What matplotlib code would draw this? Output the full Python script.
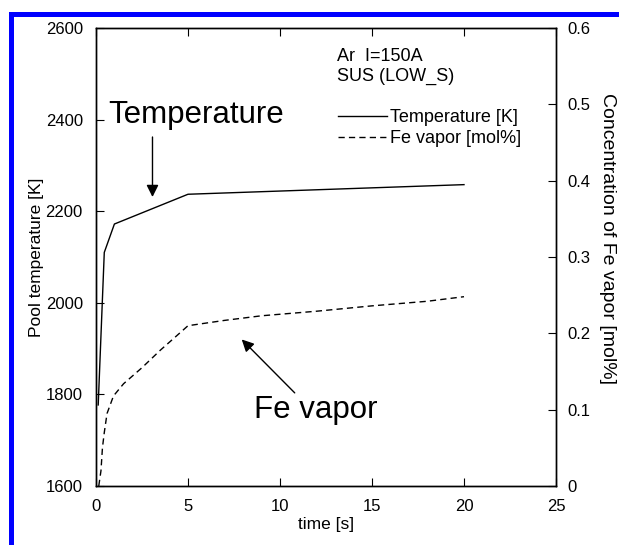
import numpy as np
import matplotlib.pyplot as plt
from matplotlib.lines import Line2D

plt.rcParams['font.family'] = ['Liberation Sans', 'DejaVu Sans']

# --- donnees ---
t_temp = [0.12, 0.45, 1.0, 5.0, 20.0]
temp_K = [1777, 2110, 2172, 2237, 2258]

t_fe = [0.15, 0.27, 0.35, 0.45, 0.6, 0.95, 1.5, 2.5, 3.5, 4.3, 5.0, 7.0, 9.0, 10.0, 12.0, 15.0, 18.0, 20.0]
fe_mol = [0.0, 0.02, 0.05, 0.07, 0.095, 0.118, 0.134, 0.155, 0.178, 0.195, 0.21,
          0.217, 0.223, 0.225, 0.229, 0.236, 0.242, 0.248]

xticks = [0, 5, 10, 15, 20, 25]
yticks_left = [1600, 1800, 2000, 2200, 2400, 2600]
yticks_right = [0, 0.1, 0.2, 0.3, 0.4, 0.5, 0.6]
yticklabels_right = ['0', '0.1', '0.2', '0.3', '0.4', '0.5', '0.6']

# --- figure ---
fig = plt.figure(figsize=(6.19, 5.45), dpi=100)
ax = fig.add_axes([96 / 619, 59 / 545, 460 / 619, 458 / 545])
ax2 = ax.twinx()

l1, = ax.plot(t_temp, temp_K, color='black', lw=1.0)
l2, = ax2.plot(t_fe, fe_mol, color='black', lw=1.0, dashes=(4.5, 3))

ax.set_xlim(0, 25)
ax.set_ylim(1600, 2600)
ax2.set_ylim(0, 0.6)
ax.set_xticks(xticks)
ax.set_yticks(yticks_left)
ax2.set_yticks(yticks_right)
ax2.set_yticklabels(yticklabels_right)

ax.tick_params(axis='x', direction='in', top=True, length=6, labelsize=12, pad=9.5)
ax.tick_params(axis='y', direction='in', length=6, labelsize=12, pad=9.5)
ax2.tick_params(axis='y', direction='in', length=6, labelsize=12, pad=8.5)
for a in (ax, ax2):
    for s in a.spines.values():
        s.set_linewidth(1.0)

ax.set_xlabel('time [s]', fontsize=12.5, labelpad=2)
ax.set_ylabel('Pool temperature [K]', fontsize=12.5, labelpad=1)
ax2.set_ylabel('Concentration of Fe vapor [mol%]', fontsize=14, rotation=270,
               va='bottom', labelpad=4)
ax2.yaxis.set_label_coords(1.094, 0.54)

# annotations
ax.text(0.65, 2410, 'Temperature', fontsize=22.5, va='center', ha='left')
ax.annotate('', xy=(3.07, 2231), xytext=(3.07, 2362),
            arrowprops=dict(arrowstyle='-|>', color='black', lw=1.0,
                            mutation_scale=18, shrinkA=0, shrinkB=0))
ax2.text(8.6, 0.089, 'Fe vapor', fontsize=22.5, va='baseline', ha='left')
ax2.annotate('', xy=(7.92, 0.192), xytext=(10.8, 0.122),
             arrowprops=dict(arrowstyle='-|>', color='black', lw=1.0,
                             mutation_scale=18, shrinkA=0, shrinkB=0))

ax2.text(13.1, 0.563, 'Ar  I=150A', fontsize=13, va='center', ha='left')
ax2.text(13.1, 0.536, 'SUS (LOW_S)', fontsize=13, va='center', ha='left')
ax2.legend([l1, l2], ['Temperature [K]', 'Fe vapor [mol%]'], loc='upper left',
           bbox_to_anchor=(0.526, 0.8225), frameon=False, fontsize=13,
           handlelength=2.7, handletextpad=0.2, labelspacing=0.2,
           borderaxespad=0, borderpad=0)

# cadre bleu
fig.add_artist(Line2D([10.5 / 619, 10.5 / 619], [0, 1 - 14 / 545], color='#0000ff',
                      lw=3.6, transform=fig.transFigure, solid_capstyle='projecting'))
fig.add_artist(Line2D([10.5 / 619, 1], [1 - 14 / 545, 1 - 14 / 545], color='#0000ff',
                      lw=3.6, transform=fig.transFigure, solid_capstyle='projecting'))

fig.savefig('out.png', dpi=100)
